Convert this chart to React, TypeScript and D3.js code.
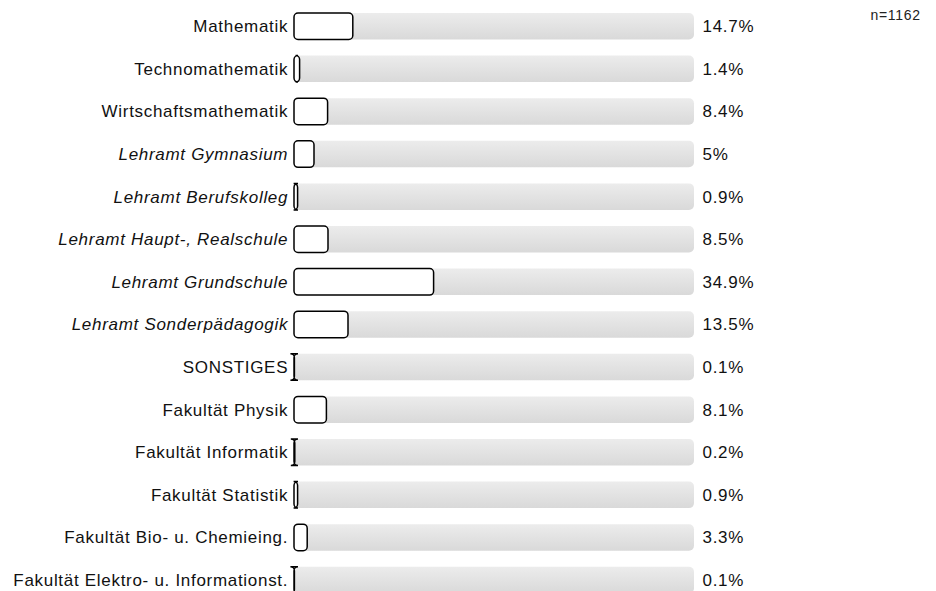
import React from 'react';
import * as d3 from 'd3';

const categories = [
  'Mathematik',
  'Technomathematik',
  'Wirtschaftsmathematik',
  'Lehramt Gymnasium',
  'Lehramt Berufskolleg',
  'Lehramt Haupt-, Realschule',
  'Lehramt Grundschule',
  'Lehramt Sonderpädagogik',
  'SONSTIGES',
  'Fakultät Physik',
  'Fakultät Informatik',
  'Fakultät Statistik',
  'Fakultät Bio- u. Chemieing.',
  'Fakultät Elektro- u. Informationst.',
];
const italicRows = [false, false, false, true, true, true, true, true, false, false, false, false, false, false];
const values = [14.7, 1.4, 8.4, 5, 0.9, 8.5, 34.9, 13.5, 0.1, 8.1, 0.2, 0.9, 3.3, 0.1];
const valueLabels = ['14.7%', '1.4%', '8.4%', '5%', '0.9%', '8.5%', '34.9%', '13.5%', '0.1%', '8.1%', '0.2%', '0.9%', '3.3%', '0.1%'];
const sampleSize = 'n=1162';

const W = 936;
const H = 591;
const font = 'Liberation Sans, Arial, sans-serif';
const spacing = 0.7;

// rounded rect without clamping the radius, so tiny bars get the "I" look
const roundBox = (x: number, y: number, w: number, h: number, r: number) =>
  `M${x + r},${y}H${x + w - r}A${r},${r} 0 0 1 ${x + w},${y + r}` +
  `V${y + h - r}A${r},${r} 0 0 1 ${x + w - r},${y + h}` +
  `H${x + r}A${r},${r} 0 0 1 ${x},${y + h - r}` +
  `V${y + r}A${r},${r} 0 0 1 ${x + r},${y}Z`;

export default function App() {
  const x = d3.scaleLinear().domain([0, 100]).range([294, 694]);
  const y = d3.scaleLinear().domain([0, 1]).range([13, 13 + 42.6]);
  const bh = 26.5;

  return (
    <svg width={W} height={H} style={{ position: 'absolute', left: 0, top: 0 }}>
      <defs>
        <linearGradient id="track" x1="0" y1="0" x2="0" y2="1">
          <stop offset="0%" stopColor="#ececec" />
          <stop offset="100%" stopColor="#d9d9d9" />
        </linearGradient>
      </defs>
      <text x={920 + spacing} y={20} fontFamily={font} fontSize={14} letterSpacing={spacing}
        textAnchor="end" fill="#222">{sampleSize}</text>
      {categories.map((c, i) => {
        const top = y(i);
        const cy = top + bh / 2;
        const w = x(values[i]) - x(0);
        return (
          <g key={c}>
            <text x={287.5 + spacing} y={cy + 6} textAnchor="end" fontFamily={font} fontSize={17}
              letterSpacing={spacing} fontStyle={italicRows[i] ? 'italic' : 'normal'} fill="#111">{c}</text>
            <rect x={x(0)} y={top} width={x(100) - x(0)} height={bh} rx={5} fill="url(#track)" />
            <path d={roundBox(x(0), top, w, bh, 4)} fill="#fff" stroke="#000" strokeWidth={1.5} />
            <text x={702.5} y={cy + 6} fontFamily={font} fontSize={17} letterSpacing={spacing}
              fill="#111">{valueLabels[i]}</text>
          </g>
        );
      })}
    </svg>
  );
}
